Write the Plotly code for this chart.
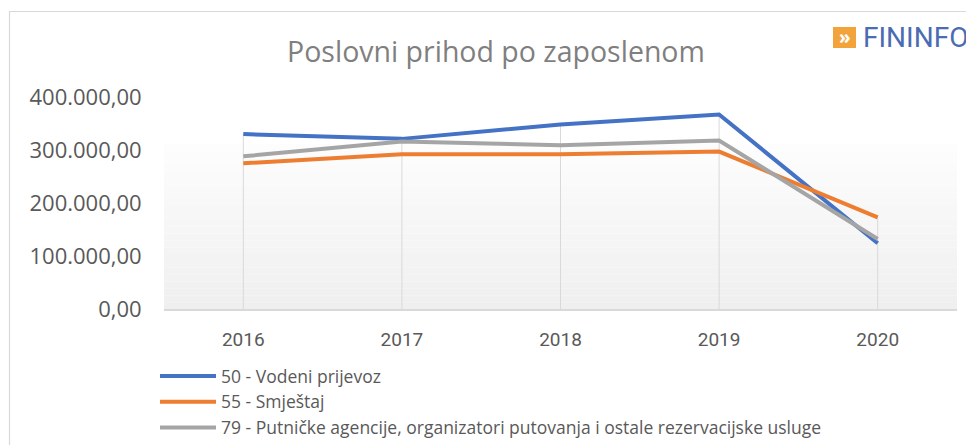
import plotly.graph_objects as go

years = ["2016", "2017", "2018", "2019", "2020"]
s50 = [330000, 321000, 348000, 367000, 124000]
s55 = [275000, 292000, 292000, 297000, 173000]
s79 = [288000, 316000, 309000, 318000, 132000]
names = ["50 - Vodeni prijevoz", "55 - Smještaj",
         "79 - Putničke agencije, organizatori putovanja i ostale rezervacijske usluge"]
colors = ["#4472c4", "#ed7d31", "#a5a5a5"]
yticks = [0, 100000, 200000, 300000, 400000]

OFF = 8  # page body margin
W, H = 974 - OFF, 445 - OFF
# plot area in page pixels
PL, PR, PT, PB = 164, 957, 97, 309
L, R, T, B = PL - OFF, PR - OFF, PT - OFF, PB - OFF

def px(x):  # page x -> paper
    return (x - OFF - L) / (R - L)

def py(y):  # page y -> paper
    return (B - (y - OFF)) / (B - T)

def cx(x):  # page x -> container
    return (x - OFF) / W

def cy(y):  # page y -> container
    return 1 - (y - OFF) / H

fig = go.Figure()

# drop lines from highest point to axis
dx, dy = [], []
for i, yr in enumerate(years):
    top = max(s50[i], s55[i], s79[i])
    dx += [yr, yr, None]
    dy += [0, top, None]
fig.add_trace(go.Scatter(x=dx, y=dy, mode="lines", line=dict(color="#d9d9d9", width=1),
                         showlegend=False, hoverinfo="skip"))

for name, vals, c in zip(names, [s50, s55, s79], colors):
    fig.add_trace(go.Scatter(x=years, y=vals, name=name, mode="lines",
                             line=dict(color=c, width=4)))

shapes = []
# gradient background bands
top_px, bot_px = 144, 309
n = 24
for k in range(n):
    y0 = top_px + (bot_px - top_px) * k / n
    y1 = top_px + (bot_px - top_px) * (k + 1) / n
    t = (k + 0.5) / n
    v = int(round(253 - (253 - 239) * t))
    shapes.append(dict(type="rect", xref="paper", yref="paper", x0=0, x1=1,
                       y0=py(y1), y1=py(y0), fillcolor=f"rgb({v},{v},{v})",
                       line=dict(width=0), layer="below"))
# chart border
shapes.append(dict(type="rect", xref="paper", yref="paper", x0=px(9.5), x1=px(1000),
                   y0=py(470), y1=py(11.5), line=dict(color="#d9d9d9", width=1.2),
                   fillcolor="rgba(0,0,0,0)", layer="below"))
# logo square
shapes.append(dict(type="rect", xref="paper", yref="paper", x0=px(833), x1=px(856),
                   y0=py(48), y1=py(27), fillcolor="#f2a43a", line=dict(width=0)))

annotations = [
    dict(text="<b>»</b>", xref="paper", yref="paper", x=px(844.5), y=py(37),
         showarrow=False, font=dict(color="white", size=19, family="Open Sans"),
         xanchor="center", yanchor="middle"),
    dict(text="FININFO", xref="paper", yref="paper", x=px(861), y=py(37.5),
         showarrow=False, font=dict(color="#4a6cb3", size=28, family="Roboto"),
         xanchor="left", yanchor="middle"),
]

fig.update_layout(
    width=W, height=H,
    margin=dict(l=L, r=W - R, t=T, b=H - B, autoexpand=False),
    paper_bgcolor="white", plot_bgcolor="rgba(0,0,0,0)",
    separators=",.",
    title=dict(text="Poslovni prihod po zaposlenom", xref="container", x=cx(496),
               xanchor="center", yref="container", y=cy(52), yanchor="middle",
               font=dict(family="Open Sans", size=28.5, color="#7f7f7f")),
    xaxis=dict(type="category", range=[-0.5, 4.5], showgrid=False, zeroline=False,
               showline=True, linecolor="#d9d9d9", linewidth=1.5, automargin=False,
               ticks="outside", ticklen=12, tickcolor="rgba(0,0,0,0)", tickangle=0,
               tickfont=dict(family="Roboto", size=19, color="#595959")),
    yaxis=dict(range=[0, 400000], tickvals=yticks, tickformat=",.2f", showgrid=False,
               zeroline=False, showline=False, ticks="outside", ticklen=17,
               tickcolor="rgba(0,0,0,0)", automargin=False,
               tickfont=dict(family="Open Sans", size=22, color="#595959")),
    legend=dict(x=px(155), y=py(358), xanchor="left", yanchor="top",
                font=dict(family="Open Sans", size=17.5, color="#595959"),
                bgcolor="rgba(0,0,0,0)", tracegroupgap=0, itemwidth=56),
    shapes=shapes, annotations=annotations,
    showlegend=True,
)

fig.write_html("out.html")
